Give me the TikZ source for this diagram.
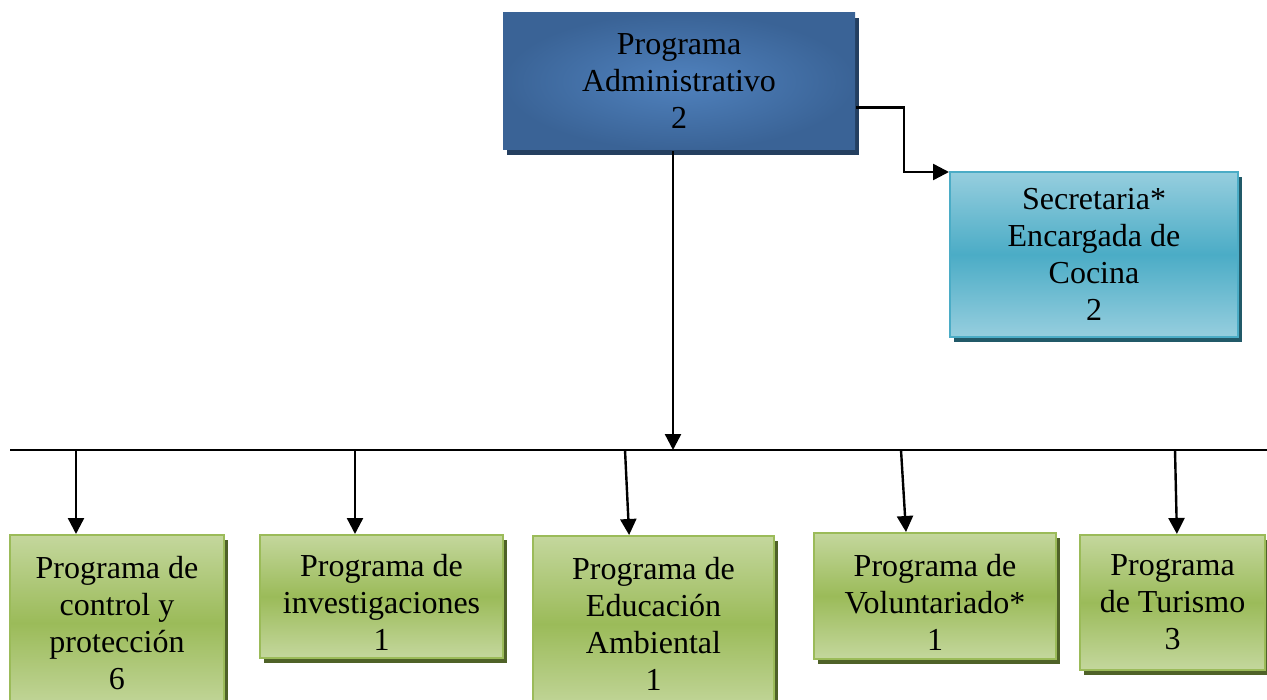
\documentclass[tikz,border=0pt]{standalone}
\usepackage{fontspec}
\setmainfont{Liberation Serif}
\usetikzlibrary{positioning, shadows, arrows.meta}
\definecolor{adminin}{RGB}{80,130,190}
\definecolor{adminout}{RGB}{58,99,150}
\definecolor{adminshade}{RGB}{36,63,96}
\definecolor{stafftop}{RGB}{150,206,222}
\definecolor{staffmid}{RGB}{75,172,198}
\definecolor{staffshade}{RGB}{33,89,104}
\definecolor{progtop}{RGB}{196,215,157}
\definecolor{progmid}{RGB}{155,187,89}
\definecolor{progshade}{RGB}{79,98,40}
\newcommand{\lowstrut}{\rule{0pt}{17pt}}
\tikzset{box node/.style={rectangle, align=center, inner sep=2pt, font=\fontsize{16}{18.5}\selectfont},
  admin node/.style={box node, inner color=adminin, outer color=adminout,
    drop shadow={shadow xshift=2pt, shadow yshift=-2.5pt, fill=adminshade, opacity=1}},
  staff node/.style={box node, draw=staffmid, line width=1pt, top color=stafftop, bottom color=stafftop, middle color=staffmid,
    drop shadow={shadow xshift=2pt, shadow yshift=-2.5pt, fill=staffshade, opacity=1}},
  program node/.style={box node, draw=progmid, line width=1pt, top color=progtop, bottom color=progtop, middle color=progmid,
    drop shadow={shadow xshift=2pt, shadow yshift=-2.5pt, fill=progshade, opacity=1}},}
\begin{document}
\begin{tikzpicture}[x=0.5pt, y=-0.5pt, >={Triangle[length=8pt, width=8pt]}, line width=1.2pt]
        \useasboundingbox (0,0) rectangle (1267,700);
        \clip (0,0) rectangle (1267,700);
        % Nodes
        \node[admin node, minimum width=176pt, minimum height=68.5pt] (adm) at (679,81.5) {Programa\\Administrativo\\2};
        \node[staff node, minimum width=144pt, minimum height=82.5pt] (sec) at (1094,254.5) {Secretaria*\\Encargada de\\Cocina\\2};
        \node[program node, minimum width=107pt, minimum height=88pt] (ctrl) at (117,623) {Programa de\\control y\\protección\\6};
        \node[program node, minimum width=121.5pt, minimum height=61.5pt] (inv) at (381.5,596.5) {\lowstrut Programa de\\investigaciones\\1};
        \node[program node, minimum width=120.5pt, minimum height=88pt] (edu) at (653.5,624) {Programa de\\Educación\\Ambiental\\1};
        \node[program node, minimum width=121pt, minimum height=63pt] (vol) at (935,596) {\lowstrut Programa de\\Voluntariado*\\1};
        \node[program node, minimum width=92.5pt, minimum height=67.5pt] (tur) at (1172.5,602.5) {Programa\\de Turismo\\3};
        % Bar
        \coordinate (barL) at (10,450);
        \coordinate (barR) at (1267,450);
        \coordinate (hub) at (673,450);
        \coordinate (d1) at (76,450);
        \coordinate (d2) at (355,450);
        \coordinate (d3) at (625,450);
        \coordinate (d4) at (901,450);
        \coordinate (d5) at (1175,450);
        \draw[line width=0.75pt] (barL) -- (barR);
        % Paths
        \draw[->] (hub |- adm.south) -- (hub);
        \draw[->] ([yshift=-13pt]adm.east) -- ++(48,0) |- ([yshift=-0.5pt]sec.north west);
        \draw[->] (d1) -- (d1 |- ctrl.north);
        \draw[->] (d2) -- (d2 |- inv.north);
        \draw[->] (d3) -- ([xshift=-12.2pt]edu.north);
        \draw[->] (d4) -- ([xshift=-14.5pt]vol.north);
        \draw[->] (d5) -- ([xshift=2.2pt]tur.north);
    \end{tikzpicture}
\end{document}
